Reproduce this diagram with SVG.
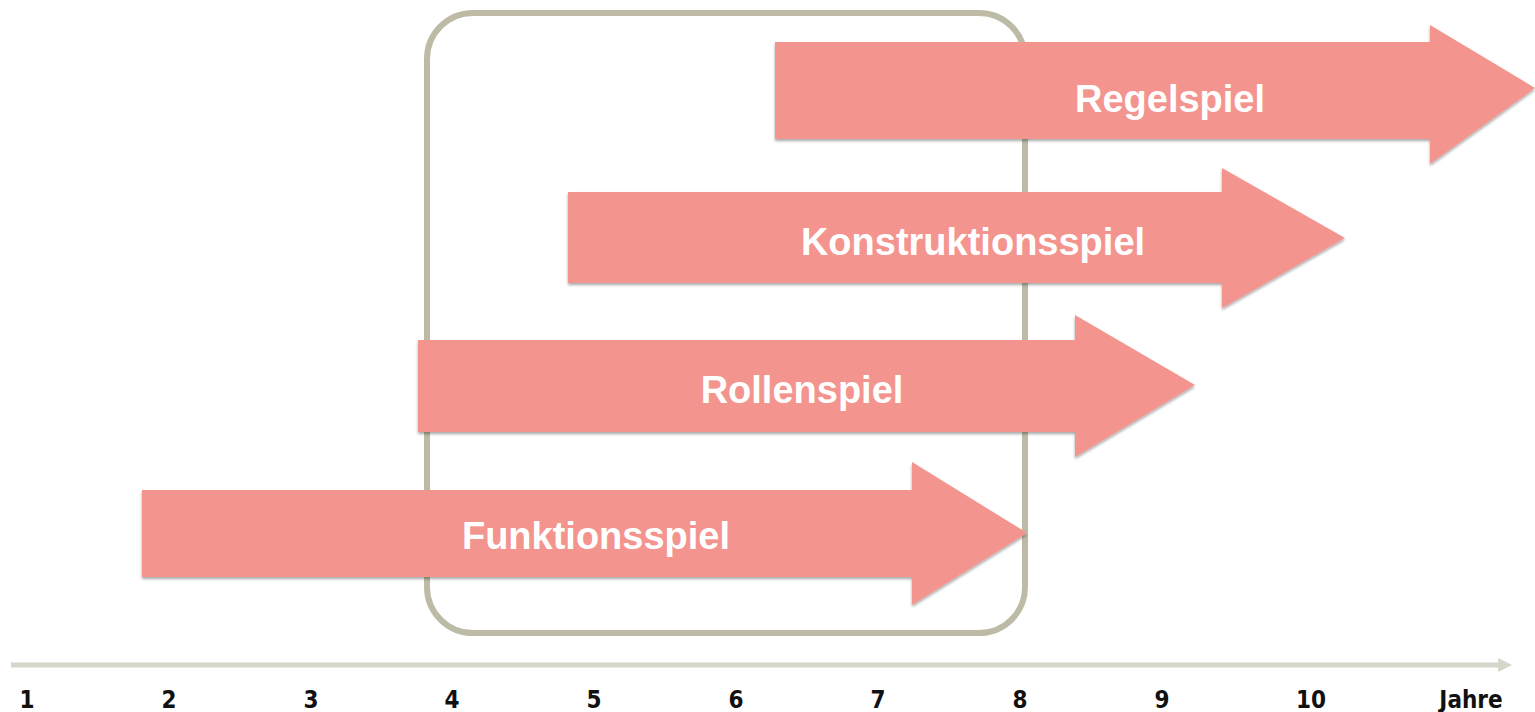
<svg xmlns="http://www.w3.org/2000/svg" width="1535" height="712" viewBox="0 0 1535 712">
  <style>
    .frame { fill: none; stroke: #bdbba6; stroke-width: 6; }
    .play { fill: #f4948f; filter: url(#shadow); }
    .label { fill: #ffffff; font-family: "Liberation Sans", Arial, sans-serif; font-weight: bold; font-size: 38px; text-anchor: middle; }
    .axis { stroke: #d6d6ca; stroke-width: 5; fill: none; }
    .tick { fill: #111111; font-family: "DejaVu Sans Condensed", "DejaVu Sans", sans-serif; font-stretch: condensed; font-weight: bold; font-size: 24px; text-anchor: middle; }
  </style>
  <defs>
    <filter id="shadow" x="-5%" y="-10%" width="110%" height="130%">
      <feGaussianBlur in="SourceAlpha" stdDeviation="1.5"/>
      <feOffset dx="0" dy="2" result="b"/>
      <feComponentTransfer><feFuncA type="linear" slope="0.35"/></feComponentTransfer>
      <feMerge><feMergeNode/><feMergeNode in="SourceGraphic"/></feMerge>
    </filter>
    <marker id="axisHead" viewBox="0 0 10 10" refX="2" refY="5" markerWidth="2.8" markerHeight="2.8" orient="auto">
      <path d="M0,0 L10,5 L0,10 z" fill="#d6d6ca"/>
    </marker>
  </defs>

  <!-- age window 4 to 8 years -->
  <g id="window">
    <rect class="frame" x="427" y="13" width="598" height="620" rx="46" ry="46"/>
  </g>

  <g id="regelspiel">
    <path class="play" d="M775,42 L1430,42 L1430,25 L1535,88 L1430,164 L1430,139 L775,139 Z"/>
    <text class="label" x="1170" y="112">Regelspiel</text>
  </g>

  <g id="konstruktionsspiel">
    <path class="play" d="M568,192 L1222,192 L1222,168 L1345,238 L1222,308 L1222,283 L568,283 Z"/>
    <text class="label" x="973" y="255">Konstruktionsspiel</text>
  </g>

  <g id="rollenspiel">
    <path class="play" d="M418,340 L1075,340 L1075,315 L1195,385 L1075,457 L1075,432 L418,432 Z"/>
    <text class="label" x="802" y="403">Rollenspiel</text>
  </g>

  <g id="funktionsspiel">
    <path class="play" d="M142,490 L912,490 L912,462 L1027,533 L912,605 L912,577 L142,577 Z"/>
    <text class="label" x="596" y="549">Funktionsspiel</text>
  </g>

  <!-- time axis -->
  <g id="connectors">
    <line class="axis" x1="11" y1="665" x2="1501" y2="665" marker-end="url(#axisHead)"/>
  </g>

  <g id="axis-labels">
    <text class="tick" x="27" y="708">1</text>
    <text class="tick" x="169" y="708">2</text>
    <text class="tick" x="311" y="708">3</text>
    <text class="tick" x="452" y="708">4</text>
    <text class="tick" x="594" y="708">5</text>
    <text class="tick" x="736" y="708">6</text>
    <text class="tick" x="878" y="708">7</text>
    <text class="tick" x="1020" y="708">8</text>
    <text class="tick" x="1162" y="708">9</text>
    <text class="tick" x="1311" y="708">10</text>
    <text class="tick" x="1471" y="708">Jahre</text>
  </g>
</svg>
